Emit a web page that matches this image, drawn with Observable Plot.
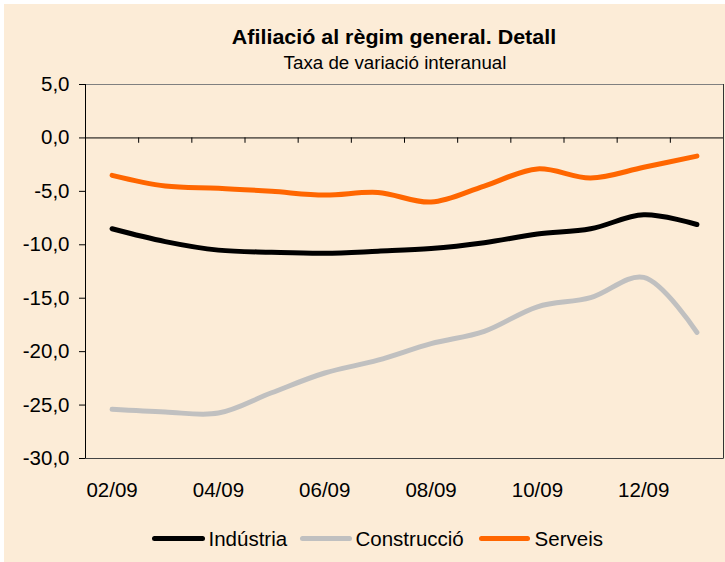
<!DOCTYPE html>
<html>
<head>
<meta charset="utf-8">
<script src="https://cdn.jsdelivr.net/npm/d3@7"></script>
<script src="https://cdn.jsdelivr.net/npm/@observablehq/plot@0.6"></script>
<style>
  html, body { margin: 0; padding: 0; background: #ffffff; }
  body { width: 725px; height: 562px; position: relative; overflow: hidden; font-family: "Liberation Sans", Arial, sans-serif; }
  #bg { position: absolute; left: 4px; top: 4px; right: 0; bottom: 0; background: #FCECD7; }
  #chart { position: absolute; left: 0; top: 0; }
  .t { position: absolute; line-height: 1; white-space: nowrap; color: #000; }
  #title { font-weight: bold; font-size: 19.5px; left: 394px; top: 27.8px; transform: translateX(-50%) scaleX(1.1); }
  #subtitle { font-size: 17.5px; left: 395px; top: 54.5px; transform: translateX(-50%) scaleX(1.07); }
  .sw { position: absolute; height: 5px; border-radius: 2.5px; }
  .lg { position: absolute; font-size: 20.5px; line-height: 1; top: 529.3px; white-space: nowrap; }
</style>
</head>
<body>
<div id="bg"></div>
<div id="chart"></div>
<div id="title" class="t">Afiliació al règim general. Detall</div>
<div id="subtitle" class="t">Taxa de variació interanual</div>
<div id="legend"></div>
<script>
// ---- data ----
const months = ["02/09","03/09","04/09","05/09","06/09","07/09","08/09","09/09","10/09","11/09","12/09","01/10"];
const tickLabels = ["02/09","04/09","06/09","08/09","10/09","12/09"];
const seriesNames = ["Indústria","Construcció","Serveis"];
const industria   = [-8.5, -9.7, -10.5, -10.7, -10.8, -10.6, -10.35, -9.8, -9.0, -8.5, -7.2, -8.1];
const construccio = [-25.4, -25.65, -25.75, -23.85, -22.0, -20.8, -19.25, -18.1, -15.8, -14.95, -13.05, -18.2];
const serveis     = [-3.5, -4.5, -4.7, -5.0, -5.35, -5.1, -6.0, -4.5, -2.9, -3.75, -2.75, -1.7];
const yTicks = [5, 0, -5, -10, -15, -20, -25, -30];
const seriesColors = ["#000000", "#C0C0C0", "#FF6600"];

const valuesBySeries = [industria, construccio, serveis];
const rows = [];
seriesNames.forEach((s, k) => valuesBySeries[k].forEach((v, i) => rows.push({i, month: months[i], series: s, value: v})));
const boundaries = d3.range(1, months.length).map(i => i - 0.5);
const fmt = d => d.toFixed(1).replace(".", ",");

const chart = Plot.plot({
  width: 725,
  height: 510,
  marginLeft: 85,
  marginRight: 2,
  marginTop: 84,
  marginBottom: 52,
  style: {background: "transparent", fontFamily: "Liberation Sans, Arial, sans-serif", color: "#000"},
  x: {type: "linear", domain: [-0.5, months.length - 0.5]},
  y: {domain: [-30, 5]},
  color: {domain: seriesNames, range: seriesColors},
  marks: [
    Plot.frame({stroke: "#808080"}),
    Plot.ruleX([months.length - 0.5], {stroke: "#333"}),
    Plot.ruleY([-30], {stroke: "#444"}),
    Plot.ruleY([0], {stroke: "#000"}),
    Plot.ruleX(boundaries, {x: d => d, y1: 0, y2: -0.5, stroke: "#000"}),
    Plot.ruleX([-0.5], {stroke: "#000"}),
    Plot.axisY({ticks: yTicks, tickFormat: fmt, tickSize: 6, tickPadding: 10, fontSize: 20.5, label: null}),
    Plot.axisX({ticks: d3.range(0, months.length, 2), tickFormat: i => tickLabels[i / 2], tickSize: 0, tickPadding: 24, fontSize: 20.5, label: null}),
    Plot.line(rows, {x: "i", y: "value", z: "series", stroke: "series", strokeWidth: 5, curve: "catmull-rom", strokeLinecap: "round", strokeLinejoin: "round"})
  ]
});
document.getElementById("chart").appendChild(chart);

// ---- legend ----
const legendPos = [
  {sx: 152.3, sw: 52.7, tx: 208.5},
  {sx: 300.4, sw: 52, tx: 355.5},
  {sx: 478.8, sw: 51.6, tx: 534.6}
];
const lg = document.getElementById("legend");
seriesNames.forEach((s, k) => {
  const p = legendPos[k];
  const sw = document.createElement("div");
  sw.className = "sw";
  sw.style.left = p.sx + "px";
  sw.style.width = p.sw + "px";
  sw.style.top = (538.6 - 2.5) + "px";
  sw.style.background = seriesColors[k];
  lg.appendChild(sw);
  const t = document.createElement("div");
  t.className = "lg";
  t.style.left = p.tx + "px";
  t.textContent = s;
  lg.appendChild(t);
});
</script>
</body>
</html>
